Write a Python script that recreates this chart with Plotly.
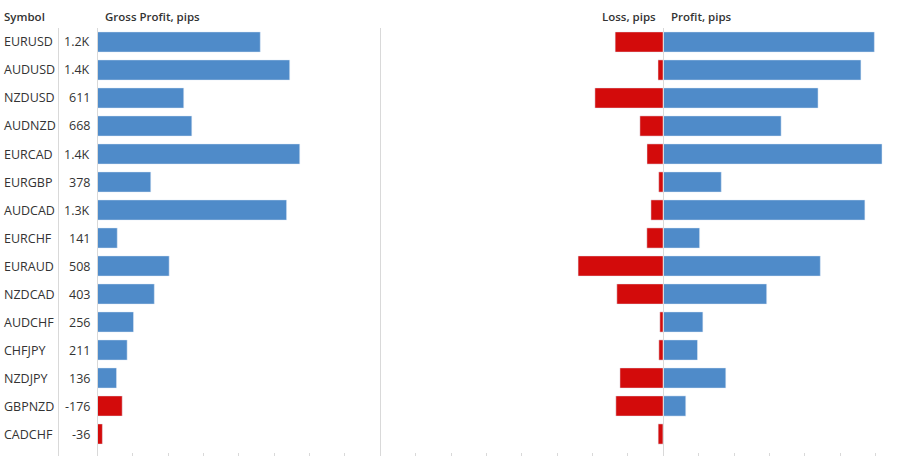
import plotly.graph_objects as go

W, H = 898, 456

# values (pips)
symbols = ["EURUSD", "AUDUSD", "NZDUSD", "AUDNZD", "EURCAD", "EURGBP", "AUDCAD", "EURCHF",
           "EURAUD", "NZDCAD", "AUDCHF", "CHFJPY", "NZDJPY", "GBPNZD", "CADCHF"]
gross = [1152, 1360, 611, 668, 1431, 378, 1338, 141, 508, 403, 256, 211, 136, -176, -36]
profit = [1492, 1397, 1094, 833, 1546, 410, 1425, 257, 1110, 731, 280, 242, 442, 159, 0]
loss = [340, 37, 483, 165, 115, 32, 87, 116, 602, 328, 24, 31, 306, 335, 36]

BLUE = "#4F8BC9"
RED = "#D30B0B"
GRID = "#d9d9d9"
TXT = "#333333"
FONT = "Open Sans"


def px_x(p):
    return p / W


def px_y(p):
    return 1 - p / H


def fmt(v):
    if abs(v) >= 1000:
        return f"{v / 1000:.1f}K"
    return str(v)


fig = go.Figure()

# gross profit (left panel) - negative totals drawn in red
fig.add_trace(go.Bar(y=symbols, x=[abs(g) for g in gross], orientation="h",
                     marker_color=[BLUE if g >= 0 else RED for g in gross],
                     width=0.72, xaxis="x", yaxis="y", hoverinfo="skip"))

# loss / profit (right panel)
fig.add_trace(go.Bar(y=symbols, x=[-l for l in loss], orientation="h", marker_color=RED,
                     width=0.72, xaxis="x2", yaxis="y", hoverinfo="skip"))
fig.add_trace(go.Bar(y=symbols, x=profit, orientation="h", marker_color=BLUE,
                     width=0.72, xaxis="x2", yaxis="y", hoverinfo="skip"))

tick_style = dict(showgrid=False, zeroline=False, showline=False, showticklabels=False,
                  ticks="outside", ticklen=4, tickwidth=1, tickcolor=GRID,
                  anchor="free", position=4 / H, fixedrange=True)

fig.update_layout(
    width=W, height=H,
    margin=dict(l=0, r=0, t=0, b=0),
    paper_bgcolor="white", plot_bgcolor="white",
    showlegend=False, barmode="relative",
    font=dict(family=FONT, color=TXT, size=12),
    xaxis=dict(domain=[px_x(97.3), px_x(451)], range=[0, 2500],
               tickvals=list(range(0, 2501, 250)), **tick_style),
    xaxis2=dict(domain=[px_x(451), 1], range=[-1500, 1659],
                tickvals=list(range(-1500, 1501, 250)), **tick_style),
    yaxis=dict(domain=[px_y(448), px_y(28)], type="category",
               categoryorder="array", categoryarray=symbols,
               range=[len(symbols) - 0.5, -0.5],
               showgrid=False, zeroline=False, showticklabels=False, fixedrange=True),
)

# light vertical separators
for xp in [58.5, 97.5, 380.5, 663.5]:
    fig.add_shape(type="line", xref="paper", yref="paper",
                  x0=px_x(xp), x1=px_x(xp), y0=0, y1=px_y(28),
                  line=dict(color=GRID, width=1), layer="above")

# row labels
for s, g in zip(symbols, gross):
    fig.add_annotation(x=px_x(2), y=s, xref="paper", yref="y", text=s, showarrow=False,
                       xanchor="left", yanchor="middle", font=dict(size=12.5, color=TXT))
    fig.add_annotation(x=px_x(92), y=s, xref="paper", yref="y", text=fmt(g), showarrow=False,
                       xanchor="right", yanchor="middle", font=dict(size=12.5, color=TXT))

# column headers
head = dict(size=11.5, color=TXT, weight=600)
headers = [("Symbol", 2, "left"), ("Gross Profit, pips", 103, "left"),
           ("Loss, pips", 658, "right"), ("Profit, pips", 669, "left")]
for txt, xp, anchor in headers:
    fig.add_annotation(x=px_x(xp), y=px_y(16), xref="paper", yref="paper", text=txt,
                       showarrow=False, xanchor=anchor, yanchor="middle", font=head)

# page has a default 8px body margin; drop it so the chart sits at the window corner
fig.write_html("out.html", config={"displayModeBar": False},
               post_script="document.body.style.margin='0';")
